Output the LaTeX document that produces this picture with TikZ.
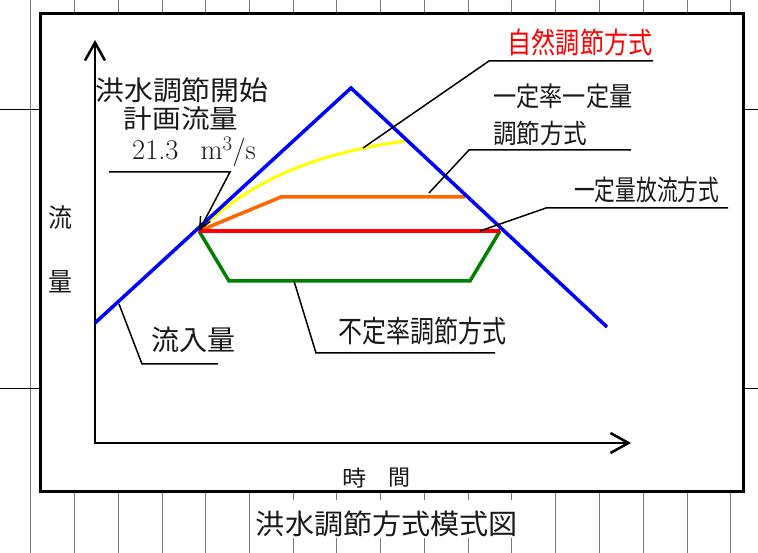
\documentclass[tikz,border=0pt]{standalone}
\usepackage{fontspec}
\usepackage{graphicx}
\newfontfamily\jpfont{Noto Sans CJK JP}
\usetikzlibrary{arrows.meta}
\newcommand\J[3]{\scalebox{#1}[1]{\fontsize{#2}{#2}\jpfont #3}}
\definecolor{cblue}{RGB}{0,0,255}
\definecolor{cred}{RGB}{255,0,0}
\definecolor{corange}{RGB}{255,102,0}
\definecolor{cgreen}{RGB}{0,128,0}
\definecolor{cyellow}{RGB}{255,255,0}
\definecolor{cgrid}{RGB}{120,120,120}
\begin{document}
\begin{tikzpicture}[x=1pt,y=-1pt,
  gridline/.style={cgrid, line width=1pt},
  flow/.style={line width=3.5pt, line join=miter},
  leader/.style={line width=1.5pt, black},
  lbl/.style={inner sep=0pt, text=black!90},
  axisline/.style={line width=2.5pt, line join=miter,
    {Straight Barb[length=18pt,width=20pt]}-{Straight Barb[length=18pt,width=20pt]}}
]
\useasboundingbox (0,0) rectangle (758,553);
\fill[white] (0,0) rectangle (758,553);

% background sheet grid
\draw[gridline] (30,0) -- (30,553);
\foreach \x in {74,118,162,205,249,293,336,380,424,468,511,555,599,643,687,730}{
  \draw[gridline] (\x,0) -- (\x,14) (\x,491) -- (\x,553);
}
\draw[gridline, black] (0,110) -- (40,110) (0,388) -- (40,388)
  (743,110) -- (758,110) (743,388) -- (758,388);

% frame
\draw[line width=3pt, fill=white] (40,14) rectangle (743,491);

% axes
\coordinate (ytip) at (95,40);
\coordinate (O) at (95,443);
\coordinate (xtip) at (631,443);
\draw[axisline] (ytip) -- (O) -- (xtip);

% key points
\coordinate (P) at (199,231);
\coordinate (inS) at (95,323);
\coordinate (peak) at (351,88);
\coordinate (inE) at (607,327);
\coordinate (redE) at (500,231);
\coordinate (orA) at (281,197);
\coordinate (orE) at (465,197);
\coordinate (grA) at (229,281);
\coordinate (grB) at (470,281);
\coordinate (yeE) at (405,141);

% curves
\draw[flow, cyellow, line width=3pt] (P) .. controls (240,190) and (300,155) .. (yeE);
\draw[flow, corange] (P) -- (orA) -- (orE);
\draw[flow, cgreen] (P) -- (grA) -- (grB) -- (redE);
\draw[flow, cred] (P) -- (redE);
\draw[flow, cblue] (inS) -- (peak) -- (inE);

% labels
\node[lbl, text=cred] (nat) at (580,42) {\J{0.83}{29}{自然調節方式}};
\node[lbl, anchor=west] (cr1) at (493,96) {\J{0.86}{27}{一定率一定量}};
\node[lbl, anchor=west] (cr2) at (493,133) {\J{0.89}{26.5}{調節方式}};
\node[lbl, anchor=west] (cq) at (574,190) {\J{0.74}{28}{一定量放流方式}};
\node[lbl, anchor=west] (var) at (338,331) {\J{0.8}{30}{不定率調節方式}};
\node[lbl, anchor=west] (inf) at (151,340) {\J{1.0}{28}{流入量}};
\node[lbl] (st1) at (182,90) {\J{1.07}{27}{洪水調節開始}};
\node[lbl] (st2) at (181,118.5) {\J{1.1}{26}{計画流量}};
\node[lbl, anchor=base west] (st3) at (132,160) {\fontsize{28.5}{28.5}\selectfont 21.3\hspace{22pt}m$^3$/s};
\node[lbl] (ya) at (60,218) {\J{0.92}{26}{流}};
\node[lbl] (yb) at (60,282) {\J{0.92}{26}{量}};
\node[lbl] (xa) at (355,478) {\J{1.1}{22}{時}};
\node[lbl] (xb) at (399,478) {\J{1.0}{22}{間}};
\fill[white] (252,500) rectangle (521,538);
\node[lbl] (cap) at (387,524) {\J{1.04}{28}{洪水調節方式模式図}};

% leaders
\coordinate (n1) at (363,148); \coordinate (n2) at (489,61); \coordinate (n3) at (653,61);
\draw[leader] (n1) -- (n2) -- (n3);
\coordinate (r1) at (429,193); \coordinate (r2) at (469,150); \coordinate (r3) at (631,150);
\draw[leader] (r1) -- (r2) -- (r3);
\coordinate (q1) at (480,231); \coordinate (q2) at (546,208); \coordinate (q3) at (728,208);
\draw[leader] (q1) -- (q2) -- (q3);
\coordinate (v1) at (294,281); \coordinate (v2) at (316,353); \coordinate (v3) at (495,353);
\draw[leader] (v1) -- (v2) -- (v3);
\coordinate (i1) at (119,304); \coordinate (i2) at (142,364); \coordinate (i3) at (218,364);
\draw[leader] (i1) -- (i2) -- (i3);
\coordinate (s1) at (109,172); \coordinate (s2) at (230,172);
\draw[leader, -{Straight Barb[length=12pt,width=11pt]}] (s1) -- (s2) -- (P);
\end{tikzpicture}
\end{document}
